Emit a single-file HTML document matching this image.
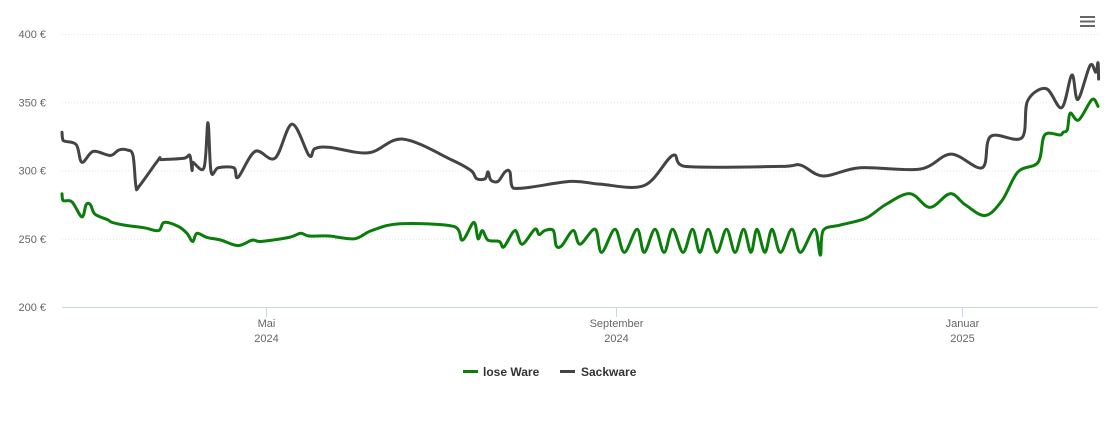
<!DOCTYPE html>
<html><head><meta charset="utf-8"><style>
body{margin:0;background:#fff;font-family:"Liberation Sans",sans-serif}
svg text{font-family:"Liberation Sans",sans-serif}
</style></head><body>
<svg id="chart" width="1110" height="422" xmlns="http://www.w3.org/2000/svg">
<g id="grid"></g>
<g id="axes"></g>
<g id="series"></g>
<g>
<rect x="1079" y="15" width="18" height="12" fill="#fff"/>
<rect x="1080" y="16" width="15" height="2" fill="#666"/>
<rect x="1080" y="20.5" width="15" height="2" fill="#666"/>
<rect x="1080" y="25" width="15" height="2" fill="#666"/>
</g>
<g>
<g>
<line x1="463" y1="371.5" x2="478" y2="371.5" stroke="#0a7d0a" stroke-width="3"/>
<text x="483" y="376" font-size="12" font-weight="bold" fill="#333">lose Ware</text></g>
<g>
<line x1="560" y1="371.5" x2="575" y2="371.5" stroke="#444" stroke-width="3"/>
<text x="581" y="376" font-size="12" font-weight="bold" fill="#333">Sackware</text></g>
</g>
</svg>
<script>
// day offsets from 2024-02-19
const yTicks=[200,250,300,350,400];
const xTickDays=[72,195,317];
const xTickLabels=[["Mai","2024"],["September","2024"],["Januar","2025"]];
const sackDays=[0,0.4,5,7,11,17,20,23,25,26,27,34,35,43,45,45.8,46,50,51.4,52.5,55,60.5,62,68,75,81,87,89,94,108,120,137,144,146,149,150,151,153.5,156,157.7,159,179,189.4,205,215,219.4,253,260,268,281,302,313,324,327,338,340,346.5,352,355.6,357.7,362,364,364.8,365];
const sackVals=[328,322,319,306,314,311,315,315,311,289,288,308,308,309,311,300,306,302,335,299,302,302,295,314,309,334,311,316,317,313,323,308,300,294,294,299,293,292,299,299,287,292,290,289,311,303,303,304,296,302,301,312,302,325,324,351,360,346,370,352,377,372,379,367];
const loseDays=[0,0.4,3.5,7,8.5,10,11.6,16,17.6,22,29,34,36,41,44,46,47.5,51,56,62,67,70,80,84,87,94,103,109,119,138,141,145,146.5,148,150,154,155.6,159.5,162,166.5,168,170,173,174,176,180,182.4,187.7,190,194.7,198,202.5,205,208.8,212,215,218.7,222,224.6,227.5,230.6,234,237,240,242.6,244.7,247.5,250,253,257,260,265,267,268,274,283,290,298.6,305.6,312.7,318,325,331,336.6,343.7,346,351.4,352.5,354,355,358,362.7,364.8];
const loseVals=[283,278,277,266,275,275,268,264,262,260,258,256,262,259,254,248,254,251,249,245,249,248,251,254,252,252,250,256,261,259,249,262,250,256,249,248,244,256,246,257,253,256,256,245,245,256,246,257,240,257,240,257,240,257,240,257,240,257,240,257,240,257,240,257,240,257,240,257,240,257,240,257,238,256,260,265,275,283,273,283,275,267,278,299,306,326,326,328,330,342,337,352,347];
const X0=62,PX=2.84,Y0=307,PY=1.365;
const xs=d=>X0+d*PX, ys=v=>Y0-(v-200)*PY;
const NS="http://www.w3.org/2000/svg";
const grid=document.getElementById('grid'),axes=document.getElementById('axes'),ser=document.getElementById('series');
yTicks.forEach(t=>{
 const y=ys(t)+0.5;
 if(t>200){const l=document.createElementNS(NS,'line');
 
 
 l.setAttribute('x1',X0);l.setAttribute('x2',1098);l.setAttribute('y1',y);l.setAttribute('y2',y);
 l.setAttribute('stroke','#e6e6e6');l.setAttribute('stroke-dasharray','1,2');grid.appendChild(l);}
 const tx=document.createElementNS(NS,'text');
 
 
 tx.setAttribute('x',46);tx.setAttribute('y',ys(t)+4);tx.setAttribute('text-anchor','end');
 tx.setAttribute('font-size','11');tx.setAttribute('fill','#666');tx.textContent=t+' €';axes.appendChild(tx);
});
const ax=document.createElementNS(NS,'line');


ax.setAttribute('x1',X0);ax.setAttribute('x2',1098);ax.setAttribute('y1',307.5);ax.setAttribute('y2',307.5);ax.setAttribute('stroke','#ccd6eb');axes.appendChild(ax);
xTickDays.forEach((d,i)=>{
 const x=Math.round(xs(d))+0.5;
 const tk=document.createElementNS(NS,'line');
 
 
 tk.setAttribute('x1',x);tk.setAttribute('x2',x);tk.setAttribute('y1',307);tk.setAttribute('y2',317);tk.setAttribute('stroke','#ccd6eb');axes.appendChild(tk);
 xTickLabels[i].forEach((s,j)=>{
  const tx=document.createElementNS(NS,'text');
  
  
  tx.setAttribute('x',x);tx.setAttribute('y',327+j*15);tx.setAttribute('text-anchor','middle');
  tx.setAttribute('font-size','11');tx.setAttribute('fill','#666');tx.textContent=s;axes.appendChild(tx);
 });
});
function pathD(days,vals){
 const p=days.map((d,i)=>[xs(d),ys(vals[i])]);
 let s='M'+p[0][0]+','+p[0][1];
 for(let i=0;i<p.length-1;i++){
  const a=p[Math.max(0,i-1)],b=p[i],c=p[i+1],e=p[Math.min(p.length-1,i+2)];
  let c1x=b[0]+(c[0]-a[0])/6,c1y=b[1]+(c[1]-a[1])/6,c2x=c[0]-(e[0]-b[0])/6,c2y=c[1]-(e[1]-b[1])/6;
  c1x=Math.min(Math.max(c1x,b[0]),c[0]);c2x=Math.min(Math.max(c2x,b[0]),c[0]);
  s+=' C'+c1x+','+c1y+' '+c2x+','+c2y+' '+c[0]+','+c[1];
 }
 return s;
}
[[sackDays,sackVals,'#444','sackware-line'],[loseDays,loseVals,'#0a7d0a','lose-ware-line']].forEach(([d,v,c,n])=>{
 const p=document.createElementNS(NS,'path');
 
 
 p.setAttribute('d',pathD(d,v));p.setAttribute('fill','none');p.setAttribute('stroke',c);
 p.setAttribute('stroke-width','3');p.setAttribute('stroke-linejoin','round');p.setAttribute('stroke-linecap','round');
 ser.appendChild(p);
});
</script>
</body></html>
